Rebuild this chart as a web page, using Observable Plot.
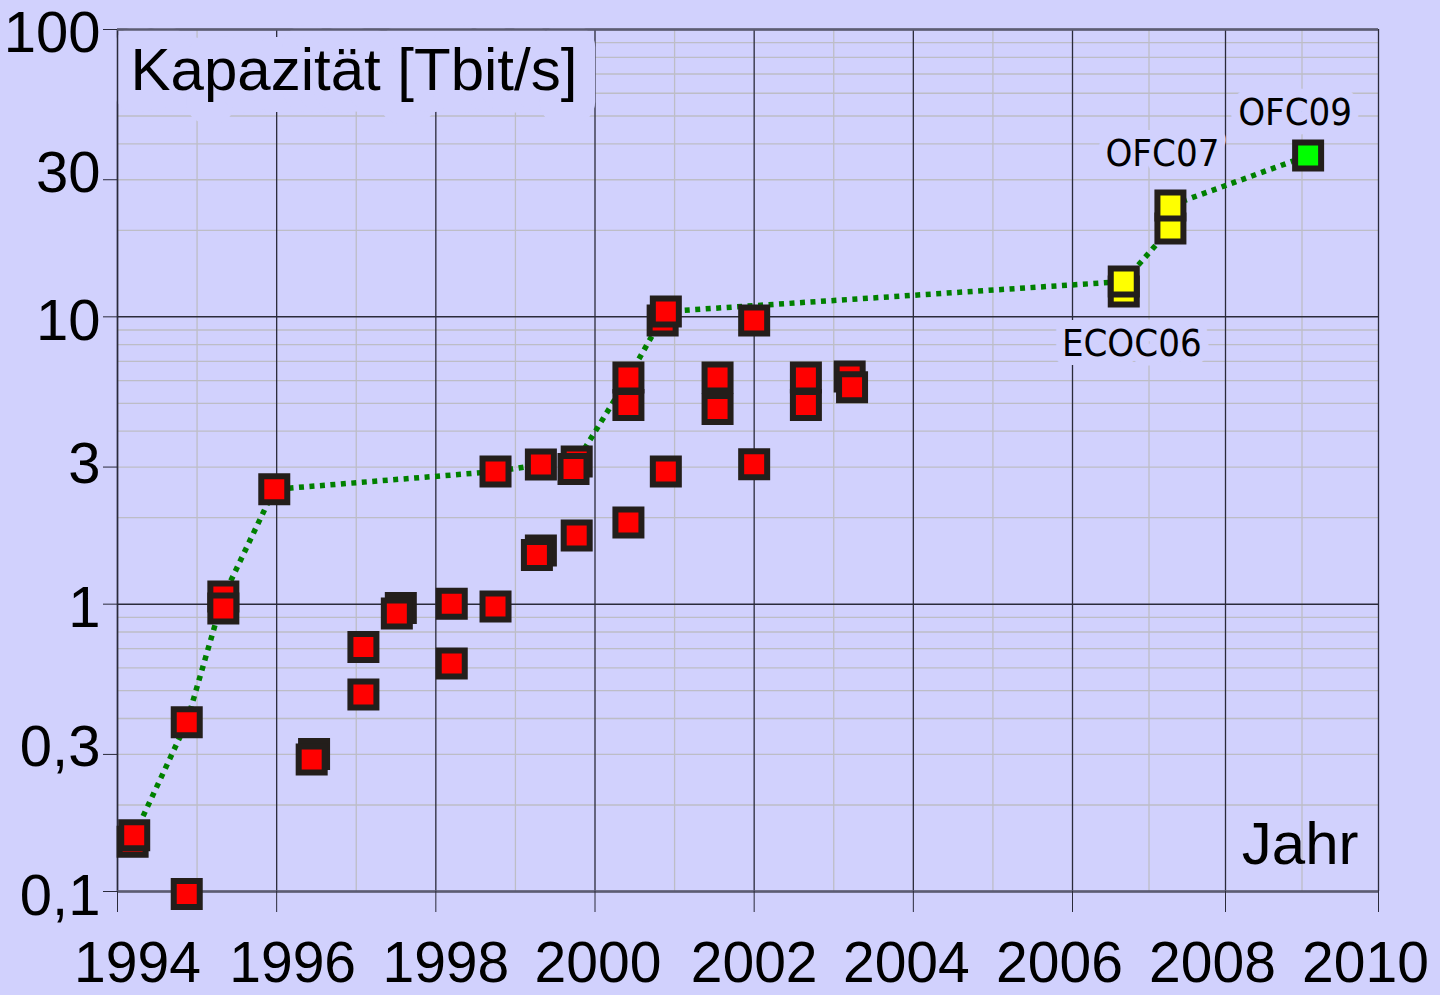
<!DOCTYPE html>
<html>
<head>
<meta charset="utf-8">
<script src="https://cdn.jsdelivr.net/npm/d3@7"></script>
<script src="https://cdn.jsdelivr.net/npm/@observablehq/plot@0.6"></script>
<style>
  html, body { margin: 0; padding: 0; background: #d1d1fd; }
  #chart svg { display: block; }
</style>
</head>
<body>
<div id="chart"></div>
<script>
// ---- data ----
const pointYear = [
  1994.19, 1994.21, 1994.87, 1994.87, 1995.33, 1995.33, 1995.97,
  1996.47, 1996.44, 1997.09, 1997.09, 1997.56, 1997.51,
  1998.20, 1998.20, 1998.75, 1998.75,
  1999.32, 1999.32, 1999.27, 1999.77, 1999.73, 1999.77,
  2000.42, 2000.42, 2000.42, 2000.85, 2000.89, 2000.89,
  2001.54, 2001.54, 2002.00, 2002.00, 2002.65, 2002.65, 2003.20, 2003.23,
  2006.67, 2006.67, 2007.28, 2007.28,
  2009.08
];
const pointValue = [
  0.149, 0.157, 0.098, 0.388, 1.064, 0.966, 2.51,
  0.301, 0.288, 0.71, 0.485, 0.97, 0.928,
  1.003, 0.622, 2.895, 0.982,
  3.06, 1.538, 1.483, 3.137, 2.954, 1.734,
  6.15, 4.93, 1.924, 9.71, 10.44, 2.895,
  6.15, 4.78, 9.71, 3.07, 6.15, 4.93, 6.2, 5.69,
  12.25, 13.27, 20.3, 24.4,
  36.4
];
const pointGroup = [
  ...Array(37).fill("1994–2003"),
  "ECOC06", "ECOC06", "OFC07", "OFC07",
  "OFC09"
];
const groupNames = ["1994–2003", "ECOC06", "OFC07", "OFC09"];
const groupColors = ["#ff0000", "#ffff00", "#ffff00", "#00ff00"];

const lineYear  = [1994.21, 1994.87, 1995.33, 1995.97, 1998.75, 1999.32, 1999.77, 2000.42, 2000.89, 2006.67, 2007.28, 2007.28, 2009.08];
const lineValue = [0.157,   0.388,   1.064,   2.51,    2.895,   3.06,    3.137,   6.15,    10.44,   13.27,   20.3,    24.4,    36.4];

const xTicks = [1994, 1996, 1998, 2000, 2002, 2004, 2006, 2008, 2010];
const xMinor = [1995, 1997, 1999, 2001, 2003, 2005, 2007, 2009];
const yTicks = [0.1, 0.3, 1, 3, 10, 30, 100];
const yMajor = [0.1, 1, 10, 100];
const yMinor = [0.1, 1, 10].flatMap(d => [2, 3, 4, 5, 6, 7, 8, 9].map(k => +(d * k).toPrecision(3)));

const titleText = "Kapazität [Tbit/s]";
const xTitle = "Jahr";
const annYear  = [2006.67, 2007.28, 2009.08];
const annValue = [13.27, 24.4, 36.4];
const annText  = ["ECOC06", "OFC07", "OFC09"];

// ---- chart ----
const BG = "#d1d1fd";
const DARK = "#2a2a3a";
const points = pointYear.map((x, i) => ({x, y: pointValue[i], g: pointGroup[i]}));
const linePts = lineYear.map((x, i) => ({x, y: lineValue[i]}));
const ann = annText.map((t, i) => ({x: annYear[i], y: annValue[i], t}));

const xLabelShift = [20, 16, 10, 3, 0, -7, -13, -13, -13];
const yLabelShift = [5, -7, 4, -3, 5, -6, 4];
const annOffsets = [[8, 47], [-8, -67], [-13, -58]];
const annFont = "'Liberation Sans Narrow', 'DejaVu Sans Condensed', sans-serif";

const plot = Plot.plot({
  width: 1440,
  height: 995,
  marginLeft: 117,
  marginRight: 62,
  marginTop: 29,
  marginBottom: 104,
  style: {background: BG, fontFamily: "'Liberation Sans', Arial, sans-serif", color: "black"},
  x: {type: "linear", domain: [1994, 2006, 2010], range: [117, 1072, 1378]},
  y: {type: "log", domain: [0.1, 100]},
  color: {domain: groupNames, range: groupColors},
  marks: [
    Plot.gridY({ticks: yMinor, stroke: "#bdbdc6", strokeOpacity: 1, strokeWidth: 1.3}),
    Plot.gridX({ticks: xMinor, stroke: "#bdbdc6", strokeOpacity: 1, strokeWidth: 1.3}),
    Plot.gridX({ticks: xTicks, stroke: DARK, strokeOpacity: 1, strokeWidth: 1.3}),
    Plot.gridY({ticks: yMajor, stroke: DARK, strokeOpacity: 1, strokeWidth: 1.5}),
    // title with background halo
    Plot.text([titleText], {
      frameAnchor: "top-left", text: d => d, textAnchor: "start", lineAnchor: "top",
      dx: 13, dy: 18, fontSize: 60, fill: "black",
      stroke: BG, strokeWidth: 44, strokeLinejoin: "round", paintOrder: "stroke"
    }),
    // frame lines drawn over the title halo
    Plot.gridX({ticks: [1994], stroke: DARK, strokeOpacity: 1, strokeWidth: 1.5}),
    Plot.gridY({ticks: [0.1, 100], stroke: "#5c5c72", strokeOpacity: 1, strokeWidth: 2.5}),
    Plot.text([xTitle], {
      frameAnchor: "bottom-right", text: d => d, textAnchor: "end", lineAnchor: "top",
      dx: -20, dy: -70, fontSize: 60, fill: "black"
    }),
    // annotation labels
    ...ann.map((d, i) => Plot.text([d], {
      x: "x", y: "y", text: "t", textAnchor: "middle", lineAnchor: "top",
      dx: annOffsets[i][0], dy: annOffsets[i][1], fontSize: 38, fontFamily: annFont,
      fill: "black", stroke: BG, strokeWidth: 18, strokeLinejoin: "round", paintOrder: "stroke"
    })),
    // trend line
    Plot.line(linePts, {x: "x", y: "y", stroke: "#008000", strokeWidth: 5.5,
      strokeDasharray: "5,5.5", strokeLinecap: "butt", strokeLinejoin: "miter"}),
    // points
    Plot.dot(points, {
      x: "x", y: "y", symbol: "square", r: 14.67, fill: "g",
      stroke: "#231e1b", strokeWidth: 6, strokeLinejoin: "miter"
    }),
    // axes
    Plot.axisY({ticks: yTicks, tickFormat: () => "", tickSize: 14, label: null, stroke: DARK}),
    ...yTicks.map((t, i) => Plot.axisY({ticks: [t], tickFormat: d => String(d).replace(".", ","),
      tickSize: 0, tickPadding: 17, dy: yLabelShift[i], fontSize: 58, label: null, fill: "black"})),
    Plot.axisX({ticks: xTicks, tickFormat: () => "", tickSize: 21, label: null, stroke: DARK}),
    ...xTicks.map((t, i) => Plot.axisX({ticks: [t], tickFormat: "d", tickSize: 0, tickPadding: 50,
      dx: xLabelShift[i], fontSize: 57, label: null, fill: "black"}))
  ]
});
document.getElementById("chart").append(plot);
</script>
</body>
</html>
